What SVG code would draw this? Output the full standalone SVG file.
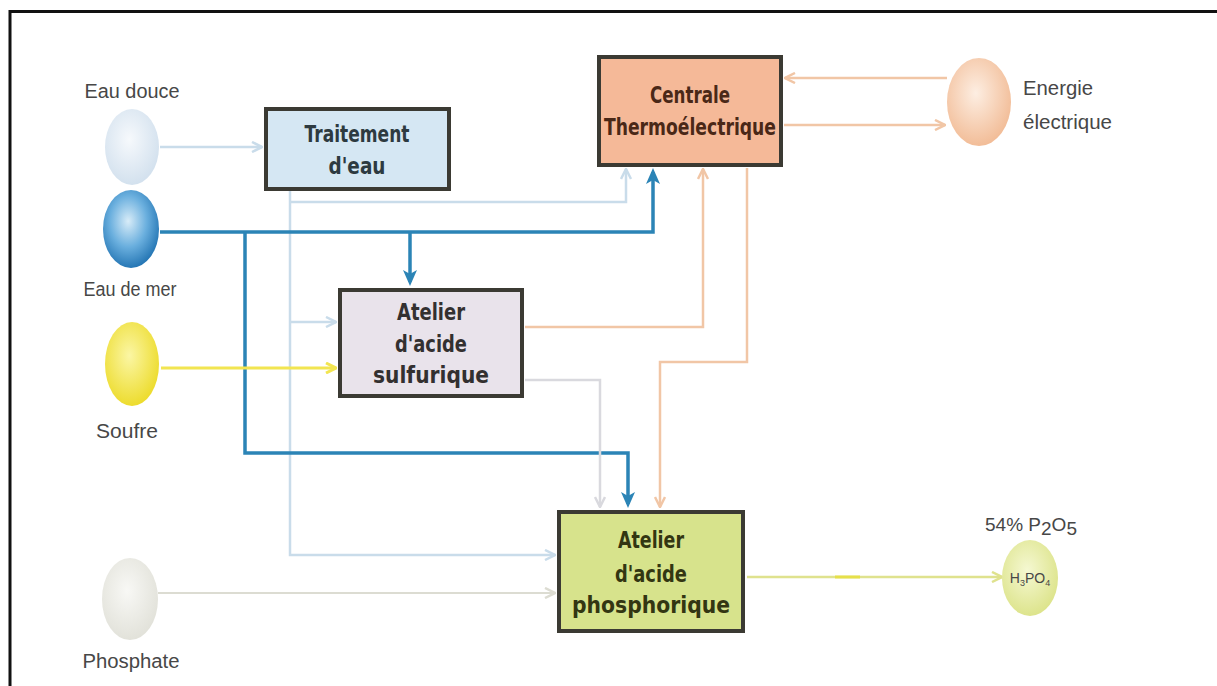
<svg xmlns="http://www.w3.org/2000/svg" width="1217" height="686" viewBox="0 0 1217 686">
<style>
.box{stroke:#3b3a33;stroke-width:4}
.bt{font-family:"DejaVu Sans","Open Sans",sans-serif;font-weight:bold;font-size:23px;text-anchor:middle}
.lb{font-family:"Liberation Sans",Arial,sans-serif;font-size:20px;fill:#474747;text-anchor:middle}
.c{fill:none;stroke-linejoin:miter}
.blue{stroke:#2b84b6;stroke-width:3.5}
.lblue{stroke:#c9dcea;stroke-width:2.5}
.salmon{stroke:#f1c6a6;stroke-width:2.5}
.yel{stroke:#f2e551;stroke-width:3}
.gray{stroke:#dcdcd2;stroke-width:2}
.lgray{stroke:#d9d9de;stroke-width:2.5}
.ygreen{stroke:#dfe28e;stroke-width:2.5}
</style>
<defs>
<marker id="aBlue" markerUnits="userSpaceOnUse" viewBox="0 0 16 14" refX="12" refY="7" markerWidth="16" markerHeight="14" orient="auto"><path d="M0,0 L16,7 L0,14 L4,7 Z" fill="#2b84b6"/></marker>
<marker id="aLblue" markerUnits="userSpaceOnUse" viewBox="0 0 12 12" refX="11" refY="6" markerWidth="12" markerHeight="12" orient="auto"><path d="M1,1 L11,6 L1,11" fill="none" stroke="#c9dcea" stroke-width="2.5"/></marker>
<marker id="aSalmon" markerUnits="userSpaceOnUse" viewBox="0 0 12 12" refX="11" refY="6" markerWidth="12" markerHeight="12" orient="auto"><path d="M1,1 L11,6 L1,11" fill="none" stroke="#f1c6a6" stroke-width="2.5"/></marker>
<marker id="aYel" markerUnits="userSpaceOnUse" viewBox="0 0 12 12" refX="11" refY="6" markerWidth="12" markerHeight="12" orient="auto"><path d="M1,1 L11,6 L1,11" fill="none" stroke="#f2e551" stroke-width="3"/></marker>
<marker id="aGray" markerUnits="userSpaceOnUse" viewBox="0 0 12 12" refX="11" refY="6" markerWidth="12" markerHeight="12" orient="auto"><path d="M1,1 L11,6 L1,11" fill="none" stroke="#dcdcd2" stroke-width="2.5"/></marker>
<marker id="aLgray" markerUnits="userSpaceOnUse" viewBox="0 0 12 12" refX="11" refY="6" markerWidth="12" markerHeight="12" orient="auto"><path d="M1,1 L11,6 L1,11" fill="none" stroke="#d9d9de" stroke-width="2.5"/></marker>
<marker id="aYgreen" markerUnits="userSpaceOnUse" viewBox="0 0 12 12" refX="11" refY="6" markerWidth="12" markerHeight="12" orient="auto"><path d="M1,1 L11,6 L1,11" fill="none" stroke="#dfe28e" stroke-width="2.5"/></marker>
<radialGradient id="gDouce" cx="0.45" cy="0.4" r="0.6"><stop offset="0" stop-color="#f6f9fc"/><stop offset="1" stop-color="#d3e1ee"/></radialGradient>
<radialGradient id="gMer" cx="0.45" cy="0.4" r="0.6"><stop offset="0" stop-color="#d8ecf8"/><stop offset="0.55" stop-color="#6aafde"/><stop offset="1" stop-color="#2677b5"/></radialGradient>
<radialGradient id="gSoufre" cx="0.45" cy="0.4" r="0.6"><stop offset="0" stop-color="#fbf6a4"/><stop offset="1" stop-color="#eddc2e"/></radialGradient>
<radialGradient id="gPhos" cx="0.45" cy="0.4" r="0.6"><stop offset="0" stop-color="#f8f8f5"/><stop offset="1" stop-color="#e2e2da"/></radialGradient>
<radialGradient id="gEnergie" cx="0.45" cy="0.4" r="0.6"><stop offset="0" stop-color="#fdeee2"/><stop offset="1" stop-color="#f2bd98"/></radialGradient>
<radialGradient id="gAcid" cx="0.45" cy="0.4" r="0.6"><stop offset="0" stop-color="#f5f8d2"/><stop offset="1" stop-color="#dde48c"/></radialGradient>
</defs>
<rect width="1217" height="686" fill="#ffffff"/>
<path d="M10,686 V11.5 H1217" fill="none" stroke="#111" stroke-width="3"/>

<g id="connectors">
<path class="c lblue" d="M160,147 H262" marker-end="url(#aLblue)"/>
<path class="c lblue" d="M290,190 V555 H555" marker-end="url(#aLblue)"/>
<path class="c lblue" d="M290,322 H336" marker-end="url(#aLblue)"/>
<path class="c lblue" d="M290,202 H626 V169" marker-end="url(#aLblue)"/>
<path class="c blue" d="M160,232 H653 V172" marker-end="url(#aBlue)"/>
<path class="c blue" d="M410,232 V282" marker-end="url(#aBlue)"/>
<path class="c blue" d="M245,232 V453 H628 V504" marker-end="url(#aBlue)"/>
<path class="c yel" d="M161,368 H336" marker-end="url(#aYel)"/>
<path class="c gray" d="M158,593 H555" marker-end="url(#aGray)"/>
<path class="c salmon" d="M525,327 H703 V169" marker-end="url(#aSalmon)"/>
<path class="c salmon" d="M747,168 V362 H660 V507" marker-end="url(#aSalmon)"/>
<path class="c lgray" d="M525,380 H600 V507" marker-end="url(#aLgray)"/>
<path class="c salmon" d="M947,78 H785" marker-end="url(#aSalmon)"/>
<path class="c salmon" d="M784,125 H945" marker-end="url(#aSalmon)"/>
<path class="c ygreen" d="M747,577 H1002" marker-end="url(#aYgreen)"/>
<path d="M835,577 H860" stroke="#e6e04a" stroke-width="3"/>
</g>

<g id="eau-douce">
<text class="lb" x="132" y="98" textLength="95" lengthAdjust="spacingAndGlyphs">Eau douce</text>
<ellipse cx="132" cy="147" rx="27" ry="38" fill="url(#gDouce)"/>
</g>
<g id="eau-de-mer">
<ellipse cx="131" cy="229" rx="28" ry="39" fill="url(#gMer)"/>
<text class="lb" x="130" y="296" textLength="93" lengthAdjust="spacingAndGlyphs">Eau de mer</text>
</g>
<g id="soufre">
<ellipse cx="132" cy="364" rx="27" ry="42" fill="url(#gSoufre)"/>
<text class="lb" x="127" y="438" textLength="62" lengthAdjust="spacingAndGlyphs">Soufre</text>
</g>
<g id="phosphate">
<ellipse cx="130" cy="599" rx="28" ry="41" fill="url(#gPhos)"/>
<text class="lb" x="131" y="668" textLength="97" lengthAdjust="spacingAndGlyphs">Phosphate</text>
</g>

<g id="traitement">
<rect class="box" x="266" y="109" width="183" height="80" fill="#d5e7f3"/>
<text class="bt" fill="#2d3a40"><tspan x="357" y="142" textLength="105" lengthAdjust="spacingAndGlyphs">Traitement</tspan><tspan x="357" y="174" textLength="57" lengthAdjust="spacingAndGlyphs">d'eau</tspan></text>
</g>
<g id="centrale">
<rect class="box" x="599" y="57" width="182" height="108" fill="#f5b998"/>
<text class="bt" fill="#4a2817"><tspan x="690" y="103" textLength="80" lengthAdjust="spacingAndGlyphs">Centrale</tspan><tspan x="690" y="135" textLength="172" lengthAdjust="spacingAndGlyphs">Thermoélectrique</tspan></text>
</g>
<g id="sulfurique">
<rect class="box" x="340" y="290" width="182" height="106" fill="#e9e3eb"/>
<text class="bt" fill="#333030"><tspan x="431" y="320" textLength="68" lengthAdjust="spacingAndGlyphs">Atelier</tspan><tspan x="431" y="352" textLength="72" lengthAdjust="spacingAndGlyphs">d'acide</tspan><tspan x="431" y="383" textLength="116" lengthAdjust="spacingAndGlyphs">sulfurique</tspan></text>
</g>
<g id="phosphorique">
<rect class="box" x="559" y="512" width="184" height="119" fill="#d7e38c"/>
<text class="bt" fill="#333612"><tspan x="651" y="548" textLength="66" lengthAdjust="spacingAndGlyphs">Atelier</tspan><tspan x="651" y="582" textLength="72" lengthAdjust="spacingAndGlyphs">d'acide</tspan><tspan x="651" y="613" textLength="158" lengthAdjust="spacingAndGlyphs">phosphorique</tspan></text>
</g>
<g id="energie">
<ellipse cx="979" cy="102" rx="32" ry="44" fill="url(#gEnergie)"/>
<text class="lb" style="text-anchor:start"><tspan x="1023" y="95" textLength="70" lengthAdjust="spacingAndGlyphs">Energie</tspan><tspan x="1023" y="129" textLength="89" lengthAdjust="spacingAndGlyphs">électrique</tspan></text>
</g>
<g id="h3po4">
<text class="lb" x="1031" y="531" style="font-size:19px">54% P<tspan dy="4">2</tspan><tspan dy="-4">O</tspan><tspan dy="4">5</tspan></text>
<ellipse cx="1030" cy="578" rx="28" ry="38" fill="url(#gAcid)"/>
<text class="lb" x="1030" y="583" style="font-size:14px">H<tspan dy="3" style="font-size:9px">3</tspan><tspan dy="-3">PO</tspan><tspan dy="3" style="font-size:9px">4</tspan></text>
</g>
</svg>
